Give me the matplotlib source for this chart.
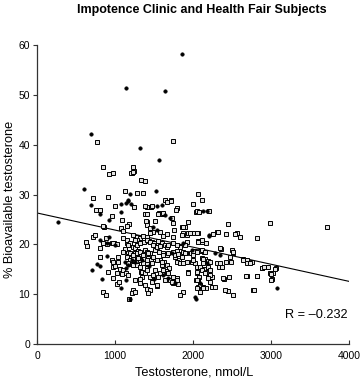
import matplotlib
matplotlib.use("Agg")
import numpy as np
import matplotlib.pyplot as plt

plt.rcParams['font.family'] = ['Liberation Sans', 'DejaVu Sans']

title = "Impotence Clinic and Health Fair Subjects"
x_label = "Testosterone, nmol/L"
y_label = "% Bioavailable testosterone"
r_text = "R = \u20130.232"

x_ticks = [0, 1000, 2000, 3000, 4000]
y_ticks = [0, 10, 20, 30, 40, 50, 60]

# regression line
fit_intercept = 26.3
fit_slope = -0.00343
fit_x = [0, 4000]

# filled dots (testosterone, % bioavailable)
filled = [
    (1862, 58.2), (1141, 51.3), (1637, 50.8), (688, 42.1), (1321, 39.4), (1560, 37.0),
    (603, 31.1), (1196, 30.2), (1526, 30.8), (1171, 29.0), (688, 27.8), (812, 26.0),
    (1077, 28.1), (1137, 28.4), (1171, 28.7), (1205, 28.2), (1077, 26.4), (927, 24.9),
    (1534, 27.7), (1598, 27.9), (1641, 25.9), (1705, 25.2), (2124, 26.7), (2183, 26.7),
    (1491, 23.5), (808, 20.9), (923, 21.5), (893, 20.2), (1128, 16.5), (1163, 15.9),
    (1141, 15.2), (2201, 21.9), (2026, 9.5), (2034, 9.0), (1141, 12.8), (1073, 11.2),
    (829, 13.0), (701, 14.9), (765, 16.1), (808, 15.7), (893, 17.7), (1192, 9.0),
    (2209, 21.7), (2282, 18.2), (2346, 17.9), (3073, 11.2), (1534, 22.9), (1256, 16.5),
    (1342, 16.9), (1726, 18.3), (1769, 12.2), (2175, 16.2), (1619, 13.8), (1440, 15.7),
    (1500, 13.0), (1683, 13.2), (1876, 20.2), (1983, 18.9), (1000, 19.9), (1214, 16.9),
    (2090, 12.2), (265, 24.5),
]

# open squares
squares = [
    (765, 40.5), (1748, 40.8), (850, 35.5), (1227, 35.5), (927, 34.1), (978, 34.3),
    (1214, 34.4), (1244, 34.8), (1329, 33.0), (1381, 32.8), (722, 29.4), (915, 29.6),
    (1128, 30.8), (1286, 30.4), (1359, 30.4), (2060, 30.1), (1641, 29.0), (1718, 29.0),
    (2111, 29.0), (756, 26.8), (808, 26.9), (1000, 27.7), (1244, 27.4), (957, 25.7),
    (1085, 24.9), (1415, 27.4), (1457, 27.4), (1662, 28.6), (1718, 28.8), (1791, 27.2),
    (1782, 26.8), (1568, 26.2), (1598, 26.0), (1385, 26.0), (1996, 28.1), (2038, 26.5),
    (2055, 26.6), (2081, 26.4), (2205, 26.6), (1406, 24.4), (1183, 24.0), (1150, 23.7),
    (1577, 22.5), (1491, 22.5), (1073, 23.3), (1107, 22.7), (859, 23.5), (1756, 22.9),
    (1855, 23.5), (1940, 24.5), (1868, 22.2), (1919, 21.9), (1940, 22.2), (1983, 22.2),
    (2013, 22.2), (2060, 20.7), (2111, 20.5), (714, 21.5), (748, 21.9), (880, 21.3),
    (966, 20.3), (991, 20.2), (1021, 20.1), (628, 20.5), (637, 19.7), (808, 19.2),
    (1235, 21.9), (1286, 21.5), (1321, 21.2), (1278, 20.9), (1363, 21.7), (1414, 21.4),
    (1440, 20.7), (1470, 20.4), (1504, 20.2), (1555, 20.7), (1598, 20.2), (1641, 19.9),
    (1662, 19.5), (1150, 20.2), (1192, 19.9), (1227, 19.5), (1261, 19.2), (1171, 18.5),
    (1214, 18.1), (1256, 18.3), (1299, 18.7), (1333, 17.9), (1150, 17.5), (1192, 16.9),
    (1235, 17.2), (1278, 16.5), (1321, 16.9), (1201, 16.1), (1385, 18.9), (1414, 18.5),
    (1449, 18.2), (1427, 17.2), (1457, 16.9), (1406, 16.3), (1414, 15.2), (1513, 18.9),
    (1568, 18.5), (1619, 18.2), (1662, 17.9), (1577, 16.9), (1628, 16.5), (1598, 15.9),
    (1662, 15.9), (1697, 15.2), (1654, 14.7), (1748, 18.5), (1799, 18.7), (1833, 18.1),
    (1769, 17.4), (1825, 16.9), (1876, 18.5), (1910, 18.2), (1970, 18.3), (2004, 17.9),
    (2026, 18.7), (1791, 16.5), (1833, 16.2), (1876, 16.3), (1919, 16.5), (1983, 16.5),
    (2026, 16.2), (2111, 17.2), (2154, 17.0), (2188, 16.7), (2132, 16.2), (2047, 15.5),
    (2090, 15.4), (2141, 15.0), (2175, 14.5), (2196, 13.4), (2047, 14.3), (2081, 13.5),
    (2038, 12.8), (2068, 11.5), (1876, 10.5), (1940, 14.5), (1740, 13.5), (1791, 13.2),
    (1769, 12.5), (1748, 12.2), (1812, 12.0), (1662, 14.2), (1641, 12.8), (1705, 12.8),
    (1543, 11.6), (1555, 13.5), (1577, 14.2), (1470, 12.5), (1449, 13.5), (1483, 13.8),
    (1414, 11.0), (1449, 10.8), (1427, 10.2), (1333, 14.5), (1363, 14.2), (1342, 13.5),
    (1321, 13.0), (1256, 12.8), (1227, 10.8), (1214, 10.2), (1183, 9.0), (978, 13.2),
    (850, 10.5), (885, 9.8), (915, 14.5), (966, 16.9), (978, 15.5), (1043, 16.5),
    (1064, 15.0), (1030, 14.2), (808, 17.4), (1085, 14.0), (1128, 19.0), (1107, 18.5),
    (1897, 23.5), (2453, 24.1), (2987, 24.2), (3714, 23.4), (1962, 22.3), (2068, 22.2),
    (2253, 22.0), (2312, 22.4), (2423, 22.1), (2560, 22.2), (2603, 21.4), (2825, 21.2),
    (2068, 20.5), (2119, 20.9), (2167, 20.2), (1919, 20.5), (1833, 19.5), (2090, 18.7),
    (2141, 18.5), (2355, 19.0), (2496, 18.9), (2517, 18.2), (2474, 17.5), (2645, 17.0),
    (2688, 16.9), (2752, 16.5), (2889, 15.2), (2945, 15.4), (3064, 15.2), (2987, 14.2),
    (3009, 13.0), (2825, 13.6), (2688, 13.6), (2401, 13.0), (2303, 16.3), (2337, 15.4),
    (2196, 15.5), (2218, 14.9), (2239, 13.5), (2218, 12.5), (2260, 11.5), (2068, 12.8),
    (2090, 11.8), (2055, 11.2), (2132, 11.4), (2167, 11.2), (2453, 10.7), (2517, 9.8),
    (2765, 10.8), (1833, 9.8), (1256, 10.5), (1321, 12.2), (1385, 11.8), (1030, 12.0),
    (1047, 12.5), (1107, 14.9), (1141, 14.2), (1163, 13.8), (970, 16.5), (1000, 15.7),
    (1043, 17.5), (850, 20.2), (893, 20.1), (970, 20.2), (1107, 21.2), (1150, 20.9),
    (1192, 20.3), (1171, 19.9), (1256, 20.9), (1286, 19.9), (1321, 20.2), (1372, 20.5),
    (1414, 20.9), (1192, 18.2), (1235, 17.9), (1278, 18.2), (1321, 18.5), (1355, 17.9),
    (1299, 17.2), (1171, 16.2), (1227, 15.9), (1278, 15.9), (1321, 15.5), (1363, 16.2),
    (1415, 16.9), (1427, 18.2), (1342, 14.5), (1385, 14.2), (1415, 14.9), (1449, 22.2),
    (1619, 21.7), (1662, 22.1), (1748, 21.5), (1855, 21.9), (2047, 22.2), (2324, 22.5),
    (2539, 22.0), (1449, 20.5), (1491, 19.9), (1534, 19.5), (1577, 19.7), (1683, 19.9),
    (1748, 20.2), (1791, 19.9), (1897, 19.9), (2004, 18.7), (2047, 18.5), (2111, 18.9),
    (2154, 18.5), (2346, 19.2), (2509, 18.5), (1491, 17.5), (1534, 16.9), (1598, 16.5),
    (1470, 16.2), (1619, 17.9), (1683, 18.2), (1769, 17.9), (1812, 18.1), (1855, 17.5),
    (1897, 18.2), (2004, 16.9), (2132, 17.0), (2218, 16.5), (2346, 16.2), (2367, 15.4),
    (2423, 16.5), (2487, 16.5), (1513, 14.9), (1619, 14.9), (1683, 14.2), (1748, 13.5),
    (1791, 12.8), (1726, 12.5), (1940, 14.3), (2047, 14.5), (2111, 14.9), (2154, 14.2),
    (2218, 13.8), (2196, 13.2), (2389, 13.2), (2466, 13.5), (2047, 12.8), (2132, 11.2),
    (2239, 11.4), (2282, 11.5), (2090, 10.5), (2410, 10.8), (1534, 11.8), (2645, 16.9),
    (2697, 16.2), (2731, 16.2), (2880, 15.2), (2910, 15.4), (2965, 15.5), (3051, 15.0),
    (3022, 14.3), (2996, 14.0), (2675, 13.6), (2816, 13.6), (3000, 12.8), (2782, 10.8),
    (1201, 34.3), (1235, 34.6), (1385, 27.7), (1406, 26.0), (850, 23.7), (1397, 24.7),
    (1414, 23.9), (1470, 27.6), (1555, 26.0), (1611, 26.2), (1726, 25.2), (1748, 24.2),
    (1868, 23.5), (1513, 24.7), (1449, 23.2),
]


def main():
    fig = plt.figure(figsize=(3.63, 3.82), dpi=100)
    ax = fig.add_axes([0.102, 0.0995, 0.859, 0.7825])

    sx, sy = zip(*squares)
    fx, fy = zip(*filled)
    ax.plot(sx, sy, linestyle="none", marker="s", ms=2.9, mfc="#e4e4e4",
            mec="black", mew=0.7, zorder=3)
    ax.plot(fx, fy, linestyle="none", marker="o", ms=2.6, mfc="black",
            mec="black", mew=0.3, zorder=3)

    lx = np.array(fit_x, dtype=float)
    ax.plot(lx, fit_intercept + fit_slope * lx, color="black", lw=0.8, zorder=2)

    ax.set_xlim(0, 4000)
    ax.set_ylim(0, 60)
    ax.set_xticks(x_ticks)
    ax.set_yticks(y_ticks)
    ax.tick_params(axis="x", direction="in", length=3, labelsize=7.5, pad=5,
                   color="#333333")
    ax.tick_params(axis="y", direction="out", length=3, labelsize=7.5, pad=2,
                   color="#333333")
    for side in ("top", "right"):
        ax.spines[side].set_visible(False)
    for side in ("left", "bottom"):
        ax.spines[side].set_color("#333333")
        ax.spines[side].set_linewidth(0.9)

    fig.text(0.535, 0.024, x_label, fontsize=9.2, ha="center", va="center")
    fig.text(0.028, 0.478, y_label, fontsize=9.2, rotation=90,
             ha="center", va="center")
    ax.text(3990, 5.8, r_text, fontsize=9.2, ha="right", va="center")
    fig.text(0.555, 0.974, title, fontsize=9, fontweight="bold",
             ha="center", va="center")

    fig.savefig("out.png", dpi=100)


if __name__ == "__main__":
    main()
